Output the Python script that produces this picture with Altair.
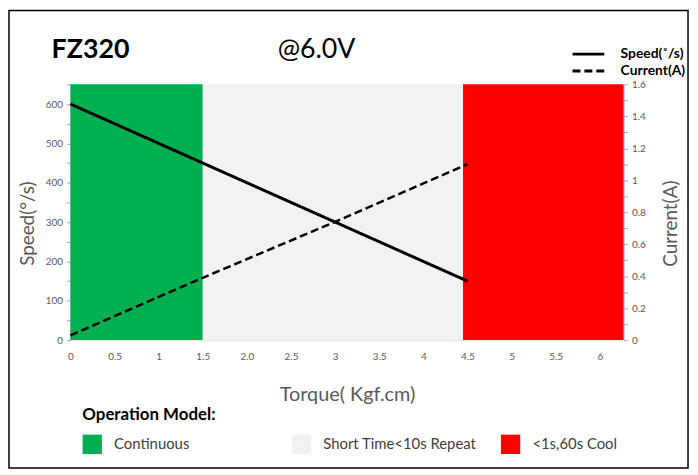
import altair as alt
import pandas as pd

# ---- data ----
torque = [0, 1.5, 3.0, 4.5]
speed = [600, 450, 300, 150]
current = [0.03, 0.39, 0.74, 1.10]

series = ["Speed(˚/s)", "Current(A)"]

modes = ["Continuous", "Short Time<10s Repeat", "<1s,60s Cool"]
mode_start = [0, 1.5, 4.45]
mode_end = [1.5, 4.45, 6.27]
mode_colors = ["#00B050", "#F2F2F2", "#FF0000"]

x_ticks = [0, 0.5, 1, 1.5, 2, 2.5, 3, 3.5, 4, 4.5, 5, 5.5, 6]
x_labels = ["0", "0.5", "1", "1.5", "2.0", "2.5", "3", "3.5", "4", "4.5", "5", "5.5", "6"]
speed_ticks = [0, 50, 100, 150, 200, 250, 300, 350, 400, 450, 500, 550, 600, 650]
current_ticks = [0, 0.1, 0.2, 0.3, 0.4, 0.5, 0.6, 0.7, 0.8, 0.9, 1, 1.1, 1.2, 1.3, 1.4, 1.5, 1.6]

title_main = ["FZ320"]
title_volt = ["@6.0V"]

# ---- tables ----
df_modes = pd.DataFrame({"mode": modes, "start": mode_start, "end": mode_end})
df_speed = pd.DataFrame({"torque": torque, "speed": speed, "series": series[0]})
df_current = pd.DataFrame({"torque": torque, "current": current, "series": series[1]})

FONT = "Lato"
GREY = "#595959"
AXBLUE = "#8FAADC"
W, H = 558, 258

x_scale = alt.Scale(domain=[0, 6.27], nice=False, zero=False)
label_expr_x = "[" + ",".join("'%s'" % s for s in x_labels) + "][round(datum.value*2)]"
x_axis = alt.Axis(
    values=x_ticks, labelExpr=label_expr_x, ticks=False, labelPadding=12,
    labelFontSize=10, labelColor=GREY, labelFlush=False, labelOverlap=False,
    domainColor="#EEECE1", domainWidth=2, grid=False,
    title="Torque( Kgf.cm)", titleFontSize=20, titleFontWeight="normal",
    titleColor=GREY, titlePadding=23,
)

dash_scale = alt.Scale(domain=series, range=[[1, 0], [8, 4]])
dash_legend = alt.Legend(
    orient="none", legendX=513, legendY=-40, title=None,
    symbolType="M-2,0H2", symbolSize=256, symbolStrokeWidth=3,
    symbolStrokeColor="black", symbolFillColor="transparent",
    labelFontSize=14, labelFontWeight="bold",
    labelColor="black", labelOffset=23, rowPadding=0, padding=0,
)

regions = alt.Chart(df_modes).mark_rect().encode(
    x=alt.X("start:Q", scale=x_scale, axis=x_axis),
    x2="end:Q",
    color=alt.Color(
        "mode:N",
        scale=alt.Scale(domain=modes, range=mode_colors),
        sort=modes,
        legend=alt.Legend(
            orient="none", legendX=12, legendY=326, direction="horizontal",
            columns=3, gridAlign="all", columnPadding=24,
            symbolType="square", symbolSize=380, symbolStrokeWidth=0,
            labelFontSize=15, labelColor="#404040", labelOffset=12, labelLimit=400,
            title="Operation Model:", titleFontSize=17, titleFontWeight="bold",
            titleColor="black", titlePadding=10, padding=0,
        ),
    ),
)

speed_line = alt.Chart(df_speed).mark_line(color="black", strokeWidth=3).encode(
    x=alt.X("torque:Q", scale=x_scale, axis=x_axis),
    y=alt.Y(
        "speed:Q",
        scale=alt.Scale(domain=[0, 650], nice=False),
        axis=alt.Axis(
            orient="left", values=speed_ticks,
            labelExpr="datum.value % 100 == 0 ? toString(datum.value) : ''",
            tickSize=4, tickColor=AXBLUE, domainColor=AXBLUE, labelPadding=4,
            labelFontSize=10, labelColor=GREY, labelOverlap=False, grid=False,
            title="Speed(°/s)", titleFontSize=19, titleFontWeight="normal",
            titleColor=GREY, titleX=-43, titleY=140, titleBaseline="middle",
            titleAlign="center", titleAngle=270,
        ),
    ),
    strokeDash=alt.StrokeDash("series:N", scale=dash_scale, legend=dash_legend),
)

current_line = alt.Chart(df_current).mark_line(color="black", strokeWidth=2.5).encode(
    x=alt.X("torque:Q", scale=x_scale, axis=x_axis),
    y=alt.Y(
        "current:Q",
        scale=alt.Scale(domain=[0, 1.6], nice=False),
        axis=alt.Axis(
            orient="right", values=current_ticks,
            labelExpr="round(datum.value*10) % 2 == 0 ? toString(datum.value) : ''",
            tickSize=4, tickColor=AXBLUE, domainColor=AXBLUE, labelPadding=4,
            labelFontSize=10, labelColor=GREY, labelOverlap=False, grid=False,
            title="Current(A)", titleFontSize=19, titleFontWeight="normal",
            titleColor=GREY, titleX=47, titleY=140, titleBaseline="middle",
            titleAlign="center", titleAngle=270,
        ),
    ),
    strokeDash=alt.StrokeDash("series:N", scale=dash_scale, legend=dash_legend),
)

t1 = alt.Chart(pd.DataFrame({"t": title_main})).mark_text(
    fontSize=27, fontWeight="bold", align="left", baseline="middle", font=FONT, color="black"
).encode(text="t:N", x=alt.value(-19), y=alt.value(-35))

t2 = alt.Chart(pd.DataFrame({"t": title_volt})).mark_text(
    fontSize=27, align="left", baseline="middle", font=FONT, color="black"
).encode(text="t:N", x=alt.value(209), y=alt.value(-35))

border = alt.Chart(pd.DataFrame({"b": [0]})).mark_rect(
    fillOpacity=0, stroke="black", strokeWidth=1.5
).encode(x=alt.value(-62), x2=alt.value(623), y=alt.value(-74.5), y2=alt.value(387))

chart = (
    alt.layer(regions, speed_line, current_line, t1, t2, border)
    .resolve_scale(y="independent")
    .properties(
        width=W, height=H,
        padding={"left": 63, "top": 75, "right": 67, "bottom": 130},
        autosize=alt.AutoSizeParams(type="none"),
        background="white",
    )
    .configure(font=FONT)
    .configure_view(strokeWidth=0)
)

chart.save("out.html", embed_options={"renderer": "svg", "actions": False})
